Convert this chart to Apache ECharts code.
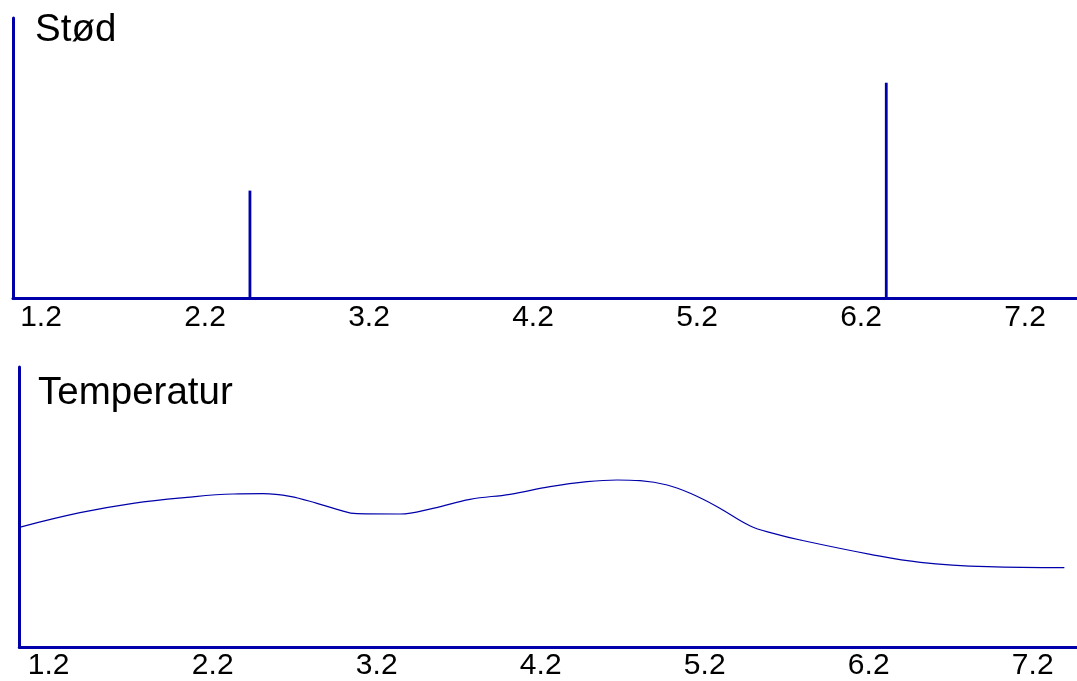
<!DOCTYPE html>
<html>
<head>
<meta charset="utf-8">
<script src="https://cdn.jsdelivr.net/npm/echarts@6/dist/echarts.min.js"></script>
<style>
html,body{margin:0;padding:0;background:#fff;}
#chart{width:1077px;height:681px;}
</style>
</head>
<body>
<div id="chart"></div>
<script>
// Data
var tickValues = [1.2, 2.2, 3.2, 4.2, 5.2, 6.2, 7.2];
var tickLabels = ['1.2', '2.2', '3.2', '4.2', '5.2', '6.2', '7.2'];
var stodX = [2.474, 6.354];
var stodValues = [1, 2];
var tempX = [1.021, 1.391, 1.714, 2.043, 2.324, 2.507, 2.671, 2.836, 2.958, 3.080,
             3.342, 3.543, 3.769, 4.013, 4.257, 4.483, 4.666, 4.806, 4.971, 5.112,
             5.276, 5.478, 5.618, 5.783, 6.210, 6.515, 6.924, 7.393];
var tempValues = [11.97, 13.43, 14.37, 14.97, 15.30, 15.33, 15.07, 14.37, 13.77, 13.33,
                  13.30, 13.87, 14.77, 15.27, 16.03, 16.53, 16.70, 16.63, 16.20, 15.37,
                  14.03, 12.10, 11.37, 10.70, 9.27, 8.47, 8.03, 7.93];

var blue = '#0000aa';
var font = 'Liberation Sans, Arial, sans-serif';

function pairs(xs, ys) { return xs.map(function (x, i) { return [x, ys[i]]; }); }
function labelFor(v) {
  for (var i = 0; i < tickValues.length; i++) {
    if (Math.abs(tickValues[i] - v) < 1e-6) return tickLabels[i];
  }
  return '';
}

function xAxisDef(gridIndex, min, max) {
  return {
    type: 'value', gridIndex: gridIndex, min: min, max: max,
    axisLine: { show: true, onZero: false, lineStyle: { color: blue, width: 3 } },
    axisTick: { show: false },
    splitLine: { show: false },
    axisLabel: {
      show: true, customValues: tickValues, margin: 4,
      color: '#000', fontSize: 30, fontFamily: font,
      formatter: function (v) { return labelFor(v); }
    }
  };
}
function yAxisDef(gridIndex, min, max) {
  return {
    type: 'value', gridIndex: gridIndex, min: min, max: max,
    axisLine: { show: true, onZero: false, lineStyle: { color: blue, width: 3 } },
    axisTick: { show: false },
    splitLine: { show: false },
    axisLabel: { show: false }
  };
}

var chart = echarts.init(document.getElementById('chart'), null, { renderer: 'canvas' });
chart.setOption({
  animation: false,
  backgroundColor: '#fff',
  title: [
    { text: 'Stød', left: 35, top: 11, padding: 0,
      textStyle: { fontSize: 38.5, fontWeight: 'normal', color: '#000', fontFamily: font } },
    { text: 'Temperatur', left: 38, top: 374, padding: 0,
      textStyle: { fontSize: 38.5, fontWeight: 'normal', color: '#000', fontFamily: font } }
  ],
  grid: [
    { left: 13, right: 0, top: 18, height: 280.5 },
    { left: 19.3, right: 0, top: 367, height: 280 }
  ],
  xAxis: [xAxisDef(0, 1.0293, 7.517), xAxisDef(1, 1.0207, 7.470)],
  yAxis: [yAxisDef(0, 0, 2.6), yAxisDef(1, 0, 28)],
  series: [
    { name: 'Stød', type: 'bar', xAxisIndex: 0, yAxisIndex: 0,
      barWidth: 2.8, itemStyle: { color: blue },
      data: pairs(stodX, stodValues) },
    { name: 'Temperatur', type: 'line', xAxisIndex: 1, yAxisIndex: 1,
      smooth: 0.4, showSymbol: false, symbol: 'none',
      lineStyle: { color: blue, width: 1.2 },
      data: pairs(tempX, tempValues) }
  ]
});
</script>
</body>
</html>
